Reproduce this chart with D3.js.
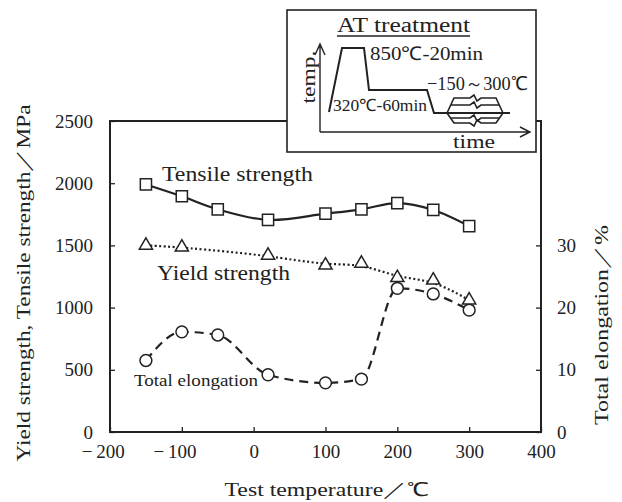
<!DOCTYPE html>
<html>
<head>
<meta charset="utf-8">
<script src="https://cdn.jsdelivr.net/npm/d3@7"></script>
<style>
  body { margin: 0; background: #fff; }
  text { font-family: "Liberation Serif", Tinos, "Times New Roman", serif; fill: #222; }
</style>
</head>
<body>
<svg id="chart" width="622" height="502"></svg>
<script>
// test temperatures (deg C)
var temps = [-150, -100, -50, 20, 100, 150, 200, 250, 300];
var tensile = [1990, 1895, 1790, 1705, 1755, 1790, 1840, 1785, 1655];
var yieldTemps = [-150, -100, 20, 100, 150, 200, 250, 300];
var yieldVals = [1500, 1485, 1420, 1340, 1355, 1240, 1220, 1060];
var elong = [11.5, 16.1, 15.6, 9.2, 7.9, 8.5, 23.1, 22.2, 19.6];

var xTicks = [-200, -100, 0, 100, 200, 300, 400];
var yTicks = [0, 500, 1000, 1500, 2000, 2500];
var y2Ticks = [0, 10, 20, 30];

var svg = d3.select("#chart");
var ink = "#222";
var serif = '"Liberation Serif", Tinos, "Times New Roman", serif';

var x = d3.scaleLinear().domain([-200, 400]).range([110, 541]);
var y = d3.scaleLinear().domain([0, 2500]).range([432, 121]);
var y2 = d3.scaleLinear().domain([0, 50]).range([432, 121]);

// axes (ticks point inward)
var gx = svg.append("g").attr("transform", "translate(0,432)")
  .call(d3.axisBottom(x).tickValues(xTicks).tickSize(-5).tickPadding(13)
    .tickFormat(function (d) { return Math.abs(d); }));
var gy = svg.append("g").attr("transform", "translate(110,0)")
  .call(d3.axisLeft(y).tickValues(yTicks).tickSize(-5).tickPadding(17).tickFormat(d3.format("d")));
var gy2 = svg.append("g").attr("transform", "translate(541,0)")
  .call(d3.axisRight(y2).tickValues(y2Ticks).tickSize(-5).tickPadding(16).tickFormat(d3.format("d")));

[gx, gy, gy2].forEach(function (g) {
  g.attr("font-family", serif);
  g.select(".domain").remove();
  g.selectAll("line").attr("stroke", ink).attr("stroke-width", 1.3);
  g.selectAll("text").style("font-size", "19px").attr("fill", ink);
});
// minus sign hangs left of the digits
gx.selectAll(".tick").filter(function (d) { return d < 0; })
  .append("text").attr("x", -18).attr("y", 13).attr("dy", "0.71em")
  .attr("text-anchor", "end").style("font-size", "19px").attr("fill", ink)
  .text("\u2212");

// plot frame
svg.append("rect").attr("x", x(-200)).attr("y", y(2500))
  .attr("width", x(400) - x(-200)).attr("height", y(0) - y(2500))
  .attr("fill", "none").attr("stroke", ink).attr("stroke-width", 2);

// lines
var tensLine = d3.line().x(function (d, i) { return x(temps[i]); })
  .y(function (d) { return y(d); }).curve(d3.curveCatmullRom);
var yieldLine = d3.line().x(function (d, i) { return x(yieldTemps[i]); })
  .y(function (d) { return y(d); }).curve(d3.curveBasis);
var elongLine = d3.line().x(function (d, i) { return x(temps[i]); })
  .y(function (d) { return y2(d); }).curve(d3.curveMonotoneX);

svg.append("path").attr("d", tensLine(tensile)).attr("fill", "none")
  .attr("stroke", ink).attr("stroke-width", 2.2);
svg.append("path").attr("d", yieldLine(yieldVals)).attr("fill", "none")
  .attr("stroke", ink).attr("stroke-width", 2.2).attr("stroke-dasharray", "2,2.5");
svg.append("path").attr("d", elongLine(elong)).attr("fill", "none")
  .attr("stroke", ink).attr("stroke-width", 2.2).attr("stroke-dasharray", "9,6");

// markers
svg.selectAll(".sq").data(tensile).enter().append("path")
  .attr("d", d3.symbol().type(d3.symbolSquare).size(125))
  .attr("transform", function (d, i) { return "translate(" + x(temps[i]) + "," + y(d) + ")"; })
  .attr("fill", "#fff").attr("stroke", ink).attr("stroke-width", 1.5);
svg.selectAll(".ci").data(elong).enter().append("path")
  .attr("d", d3.symbol().type(d3.symbolCircle).size(110))
  .attr("transform", function (d, i) { return "translate(" + x(temps[i]) + "," + y2(d) + ")"; })
  .attr("fill", "#fff").attr("stroke", ink).attr("stroke-width", 1.5);
svg.selectAll(".tr").data(yieldVals).enter().append("path")
  .attr("d", d3.symbol().type(d3.symbolTriangle).size(75))
  .attr("transform", function (d, i) { return "translate(" + x(yieldTemps[i]) + "," + y(d) + ")"; })
  .attr("fill", "#fff").attr("stroke", ink).attr("stroke-width", 1.5);

// series labels
function label(txt, px, py, size, len) {
  svg.append("text").attr("x", px).attr("y", py).style("font-size", size + "px")
    .attr("textLength", len).attr("lengthAdjust", "spacingAndGlyphs").text(txt);
}
label("Tensile strength", 162, 181, 20, 151);
label("Yield strength", 157, 280, 20, 133);
label("Total elongation", 134, 386, 17, 124);

// axis titles
svg.append("text").attr("transform", "translate(23,283) rotate(-90)")
  .attr("text-anchor", "middle").attr("dy", "0.35em").style("font-size", "19px")
  .attr("textLength", 357).attr("lengthAdjust", "spacingAndGlyphs")
  .text("Yield strength, Tensile strength\uFF0FMPa");
svg.append("text").attr("transform", "translate(601,325) rotate(-90)")
  .attr("text-anchor", "middle").attr("dy", "0.35em").style("font-size", "19px")
  .attr("textLength", 200).attr("lengthAdjust", "spacingAndGlyphs")
  .text("Total elongation\uFF0F%");
svg.append("text").attr("x", 327).attr("y", 496).attr("text-anchor", "middle")
  .style("font-size", "19px").attr("textLength", 205).attr("lengthAdjust", "spacingAndGlyphs")
  .text("Test temperature\uFF0F\u2103");

// inset: AT treatment schedule
var inset = svg.append("g");
inset.append("rect").attr("x", 287).attr("y", 10).attr("width", 249).attr("height", 142)
  .attr("fill", "#fff").attr("stroke", ink).attr("stroke-width", 1.6);
inset.append("path").attr("d", "M320,132V44M315,55L320,44L325,55M320,132H530M520,127L530,132L520,137")
  .attr("fill", "none").attr("stroke", ink).attr("stroke-width", 1.4);
inset.append("path").attr("d", "M329,112L342,48L364,48L369,90L427,90L434,113L510,113")
  .attr("fill", "none").attr("stroke", ink).attr("stroke-width", 2);
// hexagon with wavy breaks
var hex = [
  "M447,113L454,98H470l4,-3l3,6l4,-3H496L503,113",
  "M503,113L496,123H481l-4,-3l-3,6l-4,-3H454L447,113",
  "M451,105H470l4,-3l3,6l4,-3H499",
  "M451,118H470l4,-3l3,6l4,-3H499"
];
hex.forEach(function (d) {
  inset.append("path").attr("d", d).attr("fill", "none").attr("stroke", ink).attr("stroke-width", 1.6);
});
function ilabel(txt, px, py, size, len) {
  inset.append("text").attr("x", px).attr("y", py).style("font-size", size + "px")
    .attr("textLength", len).attr("lengthAdjust", "spacingAndGlyphs").text(txt);
}
ilabel("AT treatment", 337, 32, 20, 133);
inset.append("line").attr("x1", 337).attr("x2", 470).attr("y1", 36).attr("y2", 36)
  .attr("stroke", ink).attr("stroke-width", 1.3);
ilabel("850\u2103-20min", 370, 60, 19, 113);
ilabel("\u2212150\uFF5E300\u2103", 427, 90, 19, 101);
ilabel("320\u2103-60min", 333, 111, 17, 94);
ilabel("time", 453, 148, 19, 42);
inset.append("text").attr("transform", "translate(308,77) rotate(-90)")
  .attr("text-anchor", "middle").attr("dy", "0.35em").style("font-size", "19px")
  .attr("textLength", 53).attr("lengthAdjust", "spacingAndGlyphs").text("temp.");
</script>
</body>
</html>
